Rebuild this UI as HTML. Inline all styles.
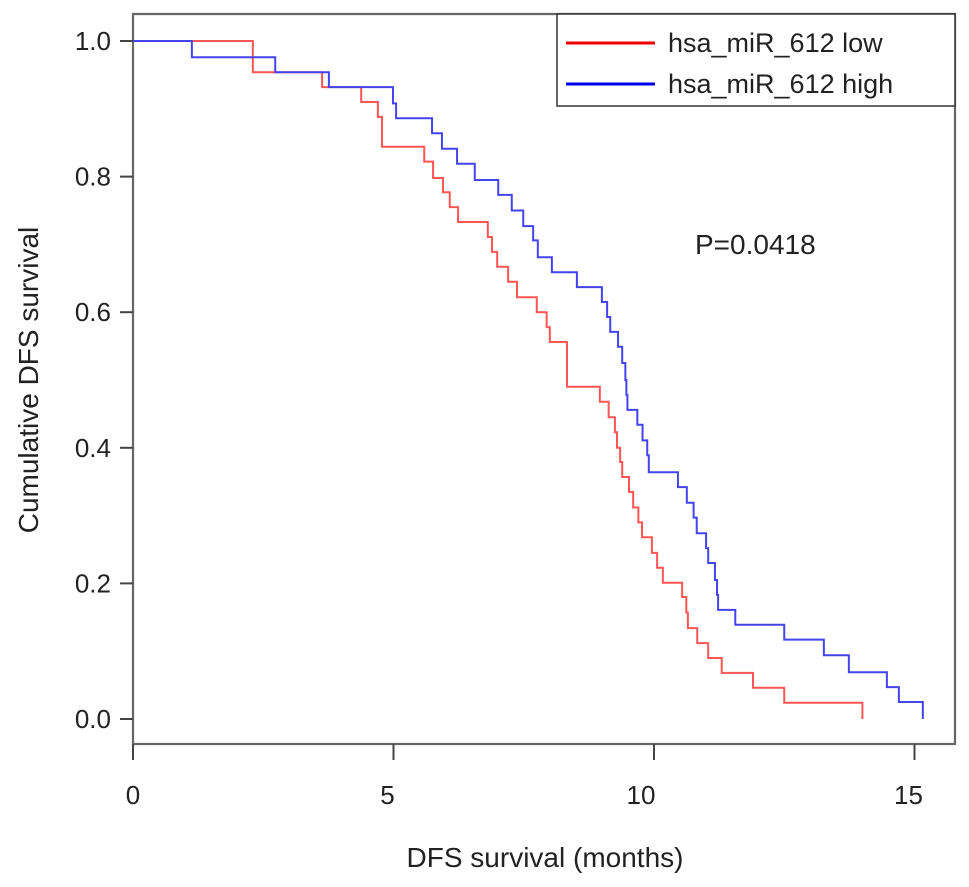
<!DOCTYPE html>
<html><head><meta charset="utf-8"><style>
html,body{margin:0;padding:0;background:#fff;}
svg{display:block;font-family:"Liberation Sans",sans-serif;}
</style></head><body>
<svg id="chart" width="969" height="887" xmlns="http://www.w3.org/2000/svg">
<g id="axes"></g>
<g id="series"></g>
<text x="695" y="254" font-size="28" fill="#222">P=0.0418</text>
<text transform="translate(38,380) rotate(-90)" text-anchor="middle" font-size="28" fill="#222">Cumulative DFS survival</text>
<text x="545" y="867" text-anchor="middle" font-size="28" fill="#222">DFS survival (months)</text>
<g>
<rect x="557" y="14" width="398" height="92" fill="#fff" stroke="#333" stroke-width="1.5"/>
<line x1="566" y1="43" x2="655" y2="43" stroke="#e00" stroke-width="3"/>
<text x="668" y="52" font-size="27" fill="#222">hsa_miR_612 low</text>
<line x1="566" y1="84" x2="655" y2="84" stroke="#00e" stroke-width="3"/>
<text x="668" y="93" font-size="27" fill="#222">hsa_miR_612 high</text>
</g>
</svg>
<script>
const xTicks = [0, 5, 10, 15];
const yTicks = [0.0, 0.2, 0.4, 0.6, 0.8, 1.0];
const lowTimes = [0,2.30,3.63,4.38,4.70,4.78,5.59,5.76,5.95,6.08,6.24,6.81,6.89,6.99,7.20,7.37,7.75,7.94,8.00,8.33,8.96,9.13,9.21,9.25,9.29,9.35,9.39,9.52,9.60,9.70,9.77,9.96,10.06,10.17,10.54,10.62,10.65,10.83,11.04,11.30,11.90,12.50,14.0];
const lowSurv = [1.0,0.954,0.932,0.910,0.888,0.844,0.822,0.798,0.777,0.755,0.733,0.711,0.689,0.667,0.645,0.622,0.600,0.578,0.556,0.490,0.468,0.445,0.445,0.423,0.400,0.379,0.357,0.335,0.312,0.290,0.268,0.245,0.223,0.201,0.180,0.157,0.134,0.112,0.090,0.068,0.046,0.024,0.0];
const highTimes = [0,1.13,2.73,3.76,4.99,5.05,5.74,5.93,6.22,6.56,7.01,7.27,7.49,7.68,7.77,8.04,8.52,9.00,9.10,9.16,9.31,9.39,9.45,9.47,9.49,9.68,9.78,9.87,9.90,10.46,10.63,10.76,10.82,11.00,11.04,11.17,11.21,11.23,11.56,12.50,13.26,13.74,14.47,14.70,15.16];
const highSurv = [1.0,0.976,0.954,0.932,0.908,0.886,0.864,0.841,0.819,0.795,0.773,0.750,0.727,0.706,0.681,0.659,0.637,0.615,0.593,0.571,0.549,0.525,0.500,0.478,0.456,0.434,0.411,0.389,0.364,0.342,0.319,0.297,0.274,0.252,0.230,0.205,0.183,0.161,0.139,0.117,0.094,0.069,0.047,0.025,0.0];

const NS = "http://www.w3.org/2000/svg";
const X0 = 133, PX = 52.1, Y0 = 719, PY = 678;
const xs = t => X0 + t * PX;
const ys = s => Y0 - s * PY;
function mk(tag, attrs, parent) {
  const e = document.createElementNS(NS, tag);
  for (const k in attrs) e.setAttribute(k, attrs[k]);
  parent.appendChild(e);
  return e;
}
const axes = document.getElementById('axes');
const frame = mk('path', {d:`M133,744 L133,14 L955,14 L955,744 Z`, fill:'none', stroke:'#666', 'stroke-width':2.2}, axes);


xTicks.forEach(v => {
  const x = xs(v);
  const t = mk('line', {x1:x, y1:744, x2:x, y2:760, stroke:'#444', 'stroke-width':2}, axes);
  
  
  const l = mk('text', {x:x - (v===0?0:(v===10?13:6)), y:804, 'text-anchor':'middle', 'font-size':26, fill:'#222'}, axes);
  l.textContent = v;
  
  
});
yTicks.forEach(v => {
  const y = ys(v);
  const t = mk('line', {x1:120, y1:y, x2:133, y2:y, stroke:'#444', 'stroke-width':2}, axes);
  
  
  const l = mk('text', {x:111, y:y + 9, 'text-anchor':'end', 'font-size':26, fill:'#222'}, axes);
  l.textContent = v.toFixed(1);
  
  
});
function stepPath(ts, ss) {
  let d = `M${xs(ts[0])},${ys(ss[0])}`;
  for (let i = 1; i < ts.length; i++) {
    d += ` H${xs(ts[i])} V${ys(ss[i])}`;
  }
  return d;
}
const series = document.getElementById('series');
const low = mk('path', {d:stepPath(lowTimes, lowSurv), fill:'none', stroke:'#f55', 'stroke-width':2}, series);


const high = mk('path', {d:stepPath(highTimes, highSurv), fill:'none', stroke:'#44e', 'stroke-width':2}, series);


</script>
</body></html>
